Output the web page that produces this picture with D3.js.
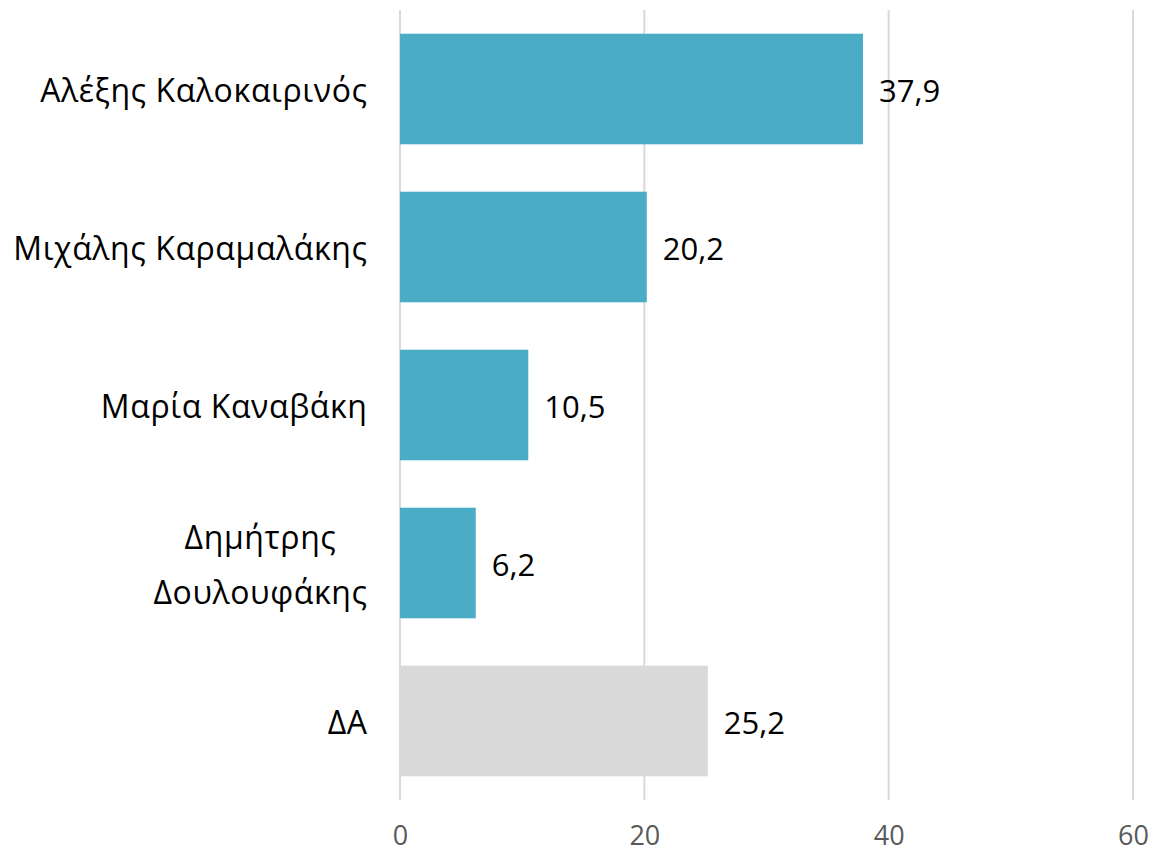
<!DOCTYPE html>
<html><head><meta charset="utf-8">
<script src="https://cdn.jsdelivr.net/npm/d3@7"></script>
<style>body{margin:0;background:#fff}svg{display:block}</style>
</head><body>
<svg id="c" width="1155" height="853"></svg>
<script>
const categories = ["Αλέξης Καλοκαιρινός","Μιχάλης Καραμαλάκης","Μαρία Καναβάκη","Δημήτρης Δουλουφάκης","ΔΑ"];
const labelLines = [["Αλέξης Καλοκαιρινός"],["Μιχάλης Καραμαλάκης"],["Μαρία Καναβάκη"],["Δημήτρης","Δουλουφάκης"],["ΔΑ"]];
const values = [37.9, 20.2, 10.5, 6.2, 25.2];
const barColors = ["#4BACC6","#4BACC6","#4BACC6","#4BACC6","#D9D9D9"];
const tickValues = [0, 20, 40, 60];

const svg = d3.select("#c");
const font = "'Open Sans', 'Noto Sans', sans-serif";
const x = d3.scaleLinear().domain([0, 60]).range([400, 1133]);
const y = d3.scaleBand().domain(categories).range([10, 800]).paddingInner(0.3).paddingOuter(0.15);

// gridlines
svg.append("g").selectAll("line").data(tickValues).join("line")
  .attr("x1", d => x(d)).attr("x2", d => x(d))
  .attr("y1", 10).attr("y2", 800)
  .attr("stroke", "#D9D9D9").attr("stroke-width", 2);

// x axis labels
const xAxis = d3.axisBottom(x).tickValues(tickValues).tickSize(0).tickPadding(0).tickFormat(d3.format("d"));
const gx = svg.append("g").attr("transform", "translate(0,826)").call(xAxis);
gx.select(".domain").remove();
gx.selectAll("text").attr("font-family", font).attr("font-size", 27).attr("fill", "#595959").attr("dy", "0.71em");

// bars
svg.append("g").selectAll("rect").data(values).join("rect")
  .attr("x", x(0)).attr("y", (d, i) => y(categories[i]))
  .attr("width", d => x(d) - x(0)).attr("height", y.bandwidth())
  .attr("fill", (d, i) => barColors[i]);

// value labels
svg.append("g").selectAll("text").data(values).join("text")
  .attr("x", d => x(d) + 16).attr("y", (d, i) => y(categories[i]) + y.bandwidth() / 2 + 2)
  .attr("dy", "0.35em")
  .attr("font-family", font).attr("font-size", 31).attr("fill", "#000")
  .text(d => d3.format(".1f")(d).replace(".", ","));

// category labels
const gy = svg.append("g");
const ls = 0.6;
categories.forEach((c, i) => {
  const lines = labelLines[i];
  const cy = y(c) + y.bandwidth() / 2 + 2;
  if (lines.length === 1) {
    gy.append("text").attr("x", 367 + ls).attr("y", cy).attr("dy", "0.35em")
      .attr("text-anchor", "end").attr("font-family", font).attr("font-size", 32).attr("letter-spacing", ls).attr("fill", "#000")
      .text(lines[0]);
  } else {
    const t = gy.append("text").attr("font-family", font).attr("font-size", 32).attr("letter-spacing", ls).attr("fill", "#000").attr("text-anchor", "middle");
    const tmp = t.append("tspan").text(lines[1]);
    const w = tmp.node().getComputedTextLength();
    tmp.remove();
    const cx = 367 + ls - w / 2;
    lines.forEach((l, k) => {
      t.append("tspan").attr("x", cx).attr("y", cy + (k - (lines.length - 1) / 2) * 55).attr("dy", "0.35em").text(l);
    });
  }
});
</script>
</body></html>
